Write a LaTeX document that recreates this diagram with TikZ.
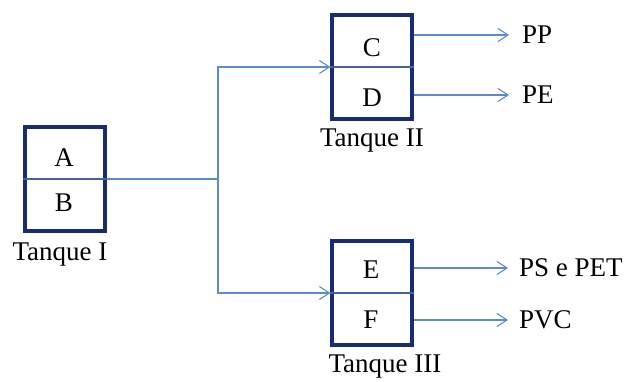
\documentclass[tikz,border=0pt]{standalone}
\usepackage{fontspec}
\setmainfont{Liberation Serif}
\usetikzlibrary{arrows.meta}
\definecolor{tanknavy}{RGB}{24,44,110}
\definecolor{flowblue}{RGB}{92,138,206}
\definecolor{splitblue}{RGB}{70,98,158}
\begin{document}
\begin{tikzpicture}[x=1pt,y=-1pt,
  every node/.style={font=\fontsize{27}{31}\selectfont},
  tank/.style={draw=tanknavy,line width=3.2pt,minimum width=80pt,minimum height=104pt,inner sep=0pt},
  divider/.style={draw=splitblue,line width=1.3pt},
  pipe/.style={draw=flowblue,line width=1.1pt},
  flow/.style={pipe,-{Straight Barb[length=10pt,width=13pt,line width=1.1pt]}},
  product/.style={anchor=west,inner sep=0pt}
]
\useasboundingbox (0,0) rectangle (630,381);

% tanks
\node[tank] (t1) at (65,179) {};
\node[tank] (t2) at (372,67) {};
\node[tank] (t3) at (372,293) {};

% phase dividers
\draw[divider] (t1.west) -- (t1.east);
\draw[divider] (t2.west) -- (t2.east);
\draw[divider] (t3.west) -- (t3.east);

% phase letters
\node (A) at (64,158) {A};
\node (B) at (64,203) {B};
\node (C) at (372,48) {C};
\node (D) at (372,98) {D};
\node (E) at (371,270) {E};
\node (F) at (371,320) {F};

% tank names
\node (n1) at (60,255) {Tanque I};
\node (n2) at (372,141) {Tanque II};
\node (n3) at (385,367) {Tanque III};

% feed from tank I to tanks II and III
\coordinate (j) at (218,179);
\draw[pipe] (t1.east) -- (j);
\draw[flow] (j) |- (t2.west);
\draw[flow] (j) |- (t3.west);

% separated products
\node[product] (pp) at (522,35) {PP};
\node[product] (pe) at (522,95) {PE};
\node[product] (ps) at (519,268) {PS e PET};
\node[product] (pvc) at (519,320) {PVC};

\draw[flow,shorten >=13pt] (t2.east |- pp.west) -- (pp.west);
\draw[flow,shorten >=13pt] (t2.east |- pe.west) -- (pe.west);
\draw[flow,shorten >=11pt] (t3.east |- ps.west) -- (ps.west);
\draw[flow,shorten >=11pt] (t3.east |- pvc.west) -- (pvc.west);
\end{tikzpicture}
\end{document}
